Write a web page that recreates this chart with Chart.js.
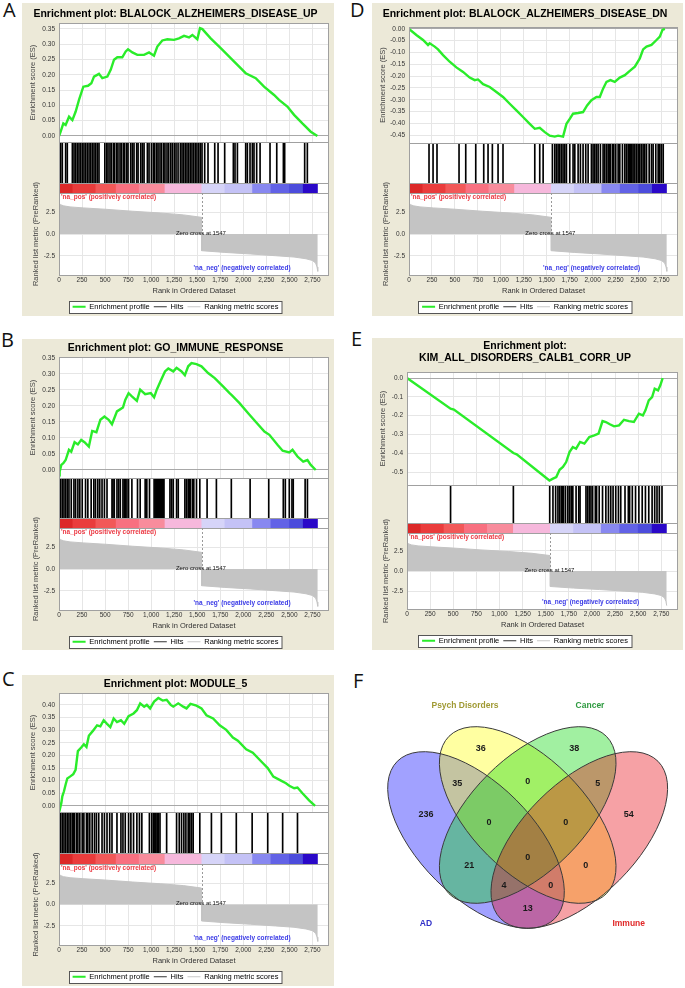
<!DOCTYPE html>
<html>
<head>
<meta charset="utf-8">
<title>GSEA enrichment plots and Venn diagram</title>
<script src="https://cdn.jsdelivr.net/npm/chart.js@4.4.1/dist/chart.umd.min.js"></script>
<style>
  html, body { margin: 0; padding: 0; background: #fff; }
  body { position: relative; width: 685px; height: 988px; overflow: hidden; }
  .panel { position: absolute; background: #ece9d8; }
  .venn { position: absolute; }
  .letter { position: absolute; font: 20px 'Open Sans', 'Noto Sans', sans-serif; line-height: 20px; color: #111; }
  canvas { display: block; }
</style>
</head>
<body>
<div class="letter" style="left:3px;top:0px">A</div>
<div class="letter" style="left:350px;top:0px">D</div>
<div class="letter" style="left:1px;top:330px">B</div>
<div class="letter" style="left:351px;top:329px">E</div>
<div class="letter" style="left:2px;top:669px">C</div>
<div class="letter" style="left:353px;top:671px">F</div>

<script>
// ---- shared axis values ----
const rankTicks = [0, 250, 500, 750, 1000, 1250, 1500, 1750, 2000, 2250, 2500, 2750];
const metricTicks = [-2.5, 0, 2.5];
const zeroCross = 1547;

// ranked list metric (same ranked list behind all five plots)
const metricRanks = [0, 15, 50, 120, 270, 500, 800, 1100, 1350, 1546, 1547, 1800, 2080, 2350, 2550, 2680, 2750, 2785, 2800, 2808];
const metricValues = [3.6, 3.38, 3.24, 3.12, 3.0, 2.85, 2.62, 2.42, 2.2, 1.92, -1.92, -2.12, -2.3, -2.5, -2.65, -2.85, -3.05, -3.35, -3.8, -4.3];

// heat bar blocks under the hits
const barStarts = [0, 150, 400, 620, 870, 1150, 1550, 1800, 2100, 2300, 2500, 2650];
const barEnds = [150, 400, 620, 870, 1150, 1550, 1800, 2100, 2300, 2500, 2650, 2805];
const barColors = ['#dc2828', '#ea3c3c', '#f25858', '#f87080', '#f88c9c', '#f6b8dc', '#d6d4f8', '#c4c2f6', '#8888f0', '#6262e6', '#4c4cdc', '#2a08c8'];

// ---- A: BLALOCK_ALZHEIMERS_DISEASE_UP ----
const titleA = ['Enrichment plot: BLALOCK_ALZHEIMERS_DISEASE_UP'];
const esTicksA = [0, 0.05, 0.1, 0.15, 0.2, 0.25, 0.3, 0.35];
const esRankA = [0, 18, 47, 72, 109, 145, 181, 217, 264, 315, 351, 380, 434, 470, 525, 561, 597, 633, 687, 724, 749, 796, 850, 923, 977, 1031, 1067, 1121, 1176, 1248, 1302, 1357, 1411, 1447, 1501, 1530, 1556, 1646, 1755, 1863, 1936, 2026, 2135, 2225, 2334, 2388, 2478, 2551, 2641, 2732, 2804];
const esValA = [0, 0.014, 0.041, 0.036, 0.063, 0.052, 0.080, 0.118, 0.161, 0.164, 0.172, 0.194, 0.203, 0.189, 0.194, 0.216, 0.249, 0.257, 0.257, 0.276, 0.283, 0.273, 0.265, 0.265, 0.273, 0.262, 0.292, 0.312, 0.316, 0.314, 0.319, 0.327, 0.322, 0.330, 0.316, 0.352, 0.349, 0.319, 0.287, 0.254, 0.232, 0.205, 0.189, 0.161, 0.134, 0.118, 0.096, 0.069, 0.041, 0.014, 0];
const hitsA = [18, 36, 72, 90, 145, 163, 181, 199, 217, 235, 253, 271, 289, 307, 326, 344, 362, 380, 398, 416, 434, 497, 517, 532, 553, 568, 590, 604, 626, 640, 662, 677, 698, 713, 735, 749, 778, 796, 814, 843, 858, 887, 905, 923, 959, 977, 1003, 1024, 1039, 1060, 1075, 1096, 1114, 1136, 1150, 1172, 1190, 1212, 1230, 1251, 1270, 1292, 1317, 1335, 1353, 1371, 1389, 1407, 1425, 1443, 1461, 1479, 1497, 1516, 1534, 1552, 1581, 1617, 1690, 1726, 1798, 1892, 1910, 1936, 2026, 2044, 2073, 2098, 2116, 2145, 2182, 2290, 2363, 2435, 2449, 2666, 2695];

// ---- B: GO_IMMUNE_RESPONSE ----
const titleB = ['Enrichment plot: GO_IMMUNE_RESPONSE'];
const esTicksB = [0, 0.05, 0.1, 0.15, 0.2, 0.25, 0.3, 0.35];
const esRankB = [0, 7, 25, 47, 72, 108, 133, 169, 205, 241, 277, 324, 360, 406, 449, 493, 539, 575, 629, 694, 719, 755, 791, 845, 881, 935, 996, 1032, 1061, 1104, 1150, 1186, 1240, 1276, 1330, 1366, 1402, 1438, 1492, 1546, 1618, 1690, 1780, 1851, 1877, 1959, 2060, 2139, 2229, 2283, 2373, 2427, 2499, 2534, 2588, 2650, 2696, 2732, 2786];
const esValB = [0, -0.005, 0.016, 0.021, 0.031, 0.063, 0.057, 0.087, 0.080, 0.094, 0.087, 0.073, 0.122, 0.118, 0.157, 0.167, 0.157, 0.143, 0.183, 0.195, 0.219, 0.240, 0.230, 0.216, 0.251, 0.237, 0.240, 0.227, 0.251, 0.279, 0.308, 0.317, 0.308, 0.319, 0.308, 0.296, 0.324, 0.334, 0.331, 0.324, 0.303, 0.287, 0.261, 0.240, 0.233, 0.209, 0.175, 0.149, 0.120, 0.110, 0.078, 0.060, 0.055, 0.063, 0.042, 0.026, 0.031, 0.016, 0];
const hitsB = [18, 36, 54, 72, 90, 108, 133, 162, 180, 205, 226, 252, 288, 313, 349, 378, 396, 421, 442, 467, 493, 521, 575, 586, 600, 629, 647, 665, 694, 708, 719, 737, 755, 791, 852, 881, 935, 953, 982, 1032, 1043, 1053, 1061, 1068, 1078, 1089, 1096, 1104, 1114, 1125, 1132, 1139, 1204, 1222, 1240, 1276, 1294, 1366, 1384, 1402, 1413, 1427, 1449, 1463, 1492, 1528, 1607, 1708, 1870, 2074, 2276, 2434, 2456, 2499, 2528, 2542, 2671, 2696];

// ---- C: MODULE_5 ----
const titleC = ['Enrichment plot: MODULE_5'];
const esTicksC = [0, 0.05, 0.1, 0.15, 0.2, 0.25, 0.3, 0.35, 0.4];
const esRankC = [0, 11, 25, 36, 54, 72, 90, 119, 155, 180, 205, 241, 270, 298, 324, 370, 413, 449, 485, 521, 557, 593, 629, 672, 708, 755, 809, 845, 881, 924, 953, 989, 1032, 1078, 1125, 1168, 1212, 1240, 1294, 1348, 1384, 1427, 1492, 1546, 1600, 1672, 1744, 1815, 1887, 1941, 2031, 2103, 2211, 2265, 2326, 2409, 2463, 2499, 2552, 2588, 2642, 2714, 2779];
const esValC = [0, -0.01, 0.011, 0.038, 0.058, 0.085, 0.109, 0.116, 0.126, 0.143, 0.217, 0.231, 0.244, 0.233, 0.278, 0.298, 0.319, 0.315, 0.339, 0.325, 0.312, 0.346, 0.332, 0.339, 0.325, 0.355, 0.366, 0.379, 0.406, 0.393, 0.400, 0.386, 0.413, 0.427, 0.417, 0.420, 0.400, 0.393, 0.406, 0.393, 0.386, 0.404, 0.397, 0.386, 0.359, 0.346, 0.319, 0.301, 0.271, 0.258, 0.224, 0.211, 0.170, 0.150, 0.116, 0.100, 0.090, 0.080, 0.070, 0.073, 0.050, 0.022, 0];
const hitsC = [18, 36, 54, 72, 90, 108, 126, 144, 155, 169, 191, 205, 226, 252, 270, 298, 313, 334, 360, 385, 406, 431, 467, 493, 521, 550, 575, 629, 672, 694, 719, 755, 780, 809, 845, 873, 899, 981, 1006, 1024, 1032, 1043, 1053, 1068, 1078, 1096, 1168, 1276, 1305, 1330, 1355, 1377, 1402, 1420, 1438, 1456, 1528, 1654, 1762, 1924, 2096, 2265, 2427, 2588];

// ---- D: BLALOCK_ALZHEIMERS_DISEASE_DN ----
const titleD = ['Enrichment plot: BLALOCK_ALZHEIMERS_DISEASE_DN'];
const esTicksD = [0, -0.05, -0.1, -0.15, -0.2, -0.25, -0.3, -0.35, -0.4, -0.45];
const esRankD = [0, 80, 153, 207, 225, 280, 316, 371, 443, 516, 589, 661, 716, 752, 807, 879, 952, 1024, 1097, 1170, 1242, 1315, 1370, 1424, 1479, 1533, 1588, 1624, 1678, 1715, 1751, 1787, 1842, 1896, 1940, 1987, 2042, 2078, 2114, 2151, 2194, 2241, 2296, 2351, 2405, 2460, 2514, 2550, 2587, 2641, 2696, 2732, 2761, 2787];
const esValD = [0, -0.026, -0.047, -0.068, -0.061, -0.075, -0.087, -0.111, -0.139, -0.163, -0.182, -0.206, -0.217, -0.214, -0.234, -0.246, -0.267, -0.288, -0.317, -0.345, -0.373, -0.402, -0.423, -0.419, -0.437, -0.452, -0.456, -0.452, -0.456, -0.402, -0.381, -0.359, -0.356, -0.352, -0.324, -0.302, -0.288, -0.288, -0.253, -0.224, -0.217, -0.224, -0.206, -0.196, -0.178, -0.160, -0.125, -0.087, -0.075, -0.068, -0.047, -0.033, -0.004, 0];
const hitsD = [218, 262, 305, 545, 618, 727, 814, 861, 908, 970, 1024, 1370, 1424, 1461, 1562, 1588, 1606, 1624, 1642, 1660, 1678, 1697, 1715, 1751, 1787, 1806, 1842, 1867, 1896, 1925, 1951, 1987, 2005, 2024, 2042, 2060, 2085, 2114, 2132, 2151, 2169, 2180, 2194, 2216, 2231, 2252, 2278, 2296, 2325, 2351, 2369, 2387, 2398, 2412, 2427, 2441, 2460, 2478, 2496, 2514, 2532, 2550, 2568, 2587, 2616, 2641, 2659, 2688, 2714, 2732, 2750, 2769];

// ---- E: KIM_ALL_DISORDERS_CALB1_CORR_UP ----
const titleE = ['Enrichment plot:', 'KIM_ALL_DISORDERS_CALB1_CORR_UP'];
const esTicksE = [0, -0.1, -0.2, -0.3, -0.4, -0.5];
const esRankE = [0, 471, 507, 1150, 1186, 1540, 1578, 1614, 1650, 1686, 1721, 1757, 1793, 1828, 1871, 1918, 1971, 2025, 2071, 2114, 2150, 2193, 2239, 2293, 2346, 2400, 2453, 2507, 2550, 2578, 2614, 2650, 2678, 2714, 2739, 2764];
const esValE = [0, -0.163, -0.168, -0.399, -0.406, -0.545, -0.535, -0.527, -0.488, -0.473, -0.447, -0.394, -0.367, -0.376, -0.340, -0.349, -0.314, -0.305, -0.296, -0.229, -0.234, -0.246, -0.257, -0.252, -0.222, -0.229, -0.234, -0.190, -0.199, -0.172, -0.119, -0.101, -0.057, -0.066, -0.039, 0];
const hitsE = [471, 1150, 1543, 1578, 1607, 1632, 1650, 1668, 1678, 1693, 1714, 1739, 1757, 1775, 1793, 1828, 1857, 1871, 1935, 1953, 1971, 1989, 2007, 2036, 2050, 2078, 2114, 2150, 2178, 2203, 2228, 2257, 2286, 2311, 2357, 2393, 2407, 2436, 2471, 2507, 2543, 2578, 2614, 2650, 2678, 2703, 2728, 2757];

// ---- F: Venn counts ----
const vennSets = ['AD', 'Psych Disorders', 'Cancer', 'Immune'];
const vennCounts = [36, 38, 35, 0, 5, 236, 0, 0, 54, 0, 21, 0, 4, 0, 13];

// legend entries
const legendItems = ['Enrichment profile', 'Hits', 'Ranking metric scores'];
const legendColors = ['#2aec2a', '#333333', '#c8c8c8'];

// ---- layout (pixels on the page) ----
const layoutA = {left: 22, top: 3, width: 312, height: 313, plotLeft: 59, plotRight: 329, titleY: 14, esTop: 23, esBottom: 142, hitsBottom: 183, barBottom: 193, metricBottom: 275, esMin: -0.0196, esMax: 0.369, digits: 2, esTitlePad: 6.5, metricTitlePad: 9};
const layoutB = {left: 22, top: 339, width: 312, height: 311, plotLeft: 59, plotRight: 329, titleY: 348.5, esTop: 357, esBottom: 478, hitsBottom: 518, barBottom: 528, metricBottom: 610, esMin: -0.025, esMax: 0.353, digits: 2, esTitlePad: 6.5, metricTitlePad: 9};
const layoutC = {left: 22, top: 675, width: 312, height: 311, plotLeft: 59, plotRight: 329, titleY: 684, esTop: 693, esBottom: 812, hitsBottom: 853, barBottom: 864, metricBottom: 945, esMin: -0.024, esMax: 0.447, digits: 2, esTitlePad: 6.5, metricTitlePad: 9};
const layoutD = {left: 372, top: 3, width: 311, height: 313, plotLeft: 409, plotRight: 678, titleY: 14, esTop: 27, esBottom: 143, hitsBottom: 183, barBottom: 193, metricBottom: 275, esMin: -0.483, esMax: 0.008, digits: 2, esTitlePad: 6.5, metricTitlePad: 9};
const layoutE = {left: 372, top: 338, width: 311, height: 312, plotLeft: 407, plotRight: 678, titleY: 346.5, esTop: 372, esBottom: 485, hitsBottom: 523, barBottom: 533, metricBottom: 609, esMin: -0.569, esMax: 0.032, digits: 1, esTitlePad: 6.5, metricTitlePad: 9};

const vennBox = {left: 340, top: 656, width: 345, height: 332};
const vennCx = [136, 187.7, 187.7, 239.3];
const vennCy = [184, 159, 159, 184];
const vennRot = [45, 45, -45, -45];
const vennSemiMajor = 111.3, vennSemiMinor = 56.7;
const vennFill = ['rgba(0,0,255,0.37)', 'rgba(255,255,0,0.37)', 'rgba(0,215,0,0.37)', 'rgba(230,0,10,0.37)'];
const vennNameColor = ['#3030c8', '#a09a34', '#2e9a40', '#e02828'];
const vennLabelX = [140.7, 234.3, 117.3, 187.7, 257.7, 86, 149, 225.7, 288.7, 187.7, 129.3, 245.7, 164, 210.7, 187.7];
const vennLabelY = [93, 93, 128, 125.7, 128, 159, 166.7, 166.7, 159, 201.7, 210, 210, 230, 230, 252.3];
const vennNameX = [86, 125, 250, 288.7];
const vennNameY = [268, 50, 50, 268];

const FONT = "'Liberation Sans', Arial, sans-serif";
const TITLE_SIZE = 10.5, TITLE_LH = 1.12;
const LEGEND_SIZE = 7.5, LEGEND_PAD = 4;
const X_AXIS_H = 24;

Chart.defaults.font.family = FONT;
Chart.defaults.color = '#333';

function legendBox(chart) {
  const hb = chart.legend.legendHitBoxes;
  const last = hb[hb.length - 1];
  const x = Math.round(hb[0].left - 4) + 0.5;
  const y = Math.round(hb[0].top - 2) + 0.5;
  return {x, y, w: Math.round(last.left + last.width + 4) - x, h: Math.round(hb[0].height + 4)};
}

const gseaDecor = {
  id: 'gseaDecor',
  beforeDraw(chart) {
    const {ctx, chartArea: a} = chart;
    ctx.save();
    ctx.fillStyle = '#fff';
    ctx.fillRect(a.left, a.top, a.width, a.height);
    const b = legendBox(chart);
    ctx.fillRect(b.x, b.y, b.w, b.h);
    ctx.restore();
  },
  beforeDatasetsDraw(chart) {
    // no grid inside the hits strip and the heat bar
    const {ctx, chartArea: a, scales: s} = chart;
    ctx.save();
    ctx.fillStyle = '#fff';
    ctx.fillRect(a.left, s.yHits.top, a.width, s.yBar.bottom - s.yHits.top);
    ctx.restore();
  },
  afterDatasetsDraw(chart) {
    const {ctx, chartArea: a, scales: s} = chart;
    ctx.save();
    ctx.strokeStyle = '#a0a0a0';
    ctx.lineWidth = 1;
    ['yES', 'yHits', 'yBar', 'yMetric'].forEach(id => {
      const sc = s[id];
      ctx.strokeRect(Math.round(a.left) + 0.5, Math.round(sc.top) + 0.5, Math.round(a.width) - 1, Math.round(sc.bottom - sc.top));
    });
    const zx = s.x.getPixelForValue(zeroCross);
    const zy = s.yMetric.getPixelForValue(0);
    ctx.setLineDash([2, 2]);
    ctx.strokeStyle = '#999';
    ctx.beginPath();
    ctx.moveTo(Math.round(zx) + 0.5, s.yMetric.top);
    ctx.lineTo(Math.round(zx) + 0.5, zy);
    ctx.stroke();
    ctx.setLineDash([]);
    ctx.textBaseline = 'middle';
    ctx.font = '6px ' + FONT;
    ctx.fillStyle = '#111';
    ctx.textAlign = 'center';
    ctx.fillText('Zero cross at ' + zeroCross, s.x.getPixelForValue(1540), zy - 1);
    ctx.font = 'bold 6.5px ' + FONT;
    ctx.textAlign = 'left';
    ctx.fillStyle = '#ec3a44';
    ctx.fillText("'na_pos' (positively correlated)", a.left + 2, s.yMetric.top + 4);
    ctx.fillStyle = '#3a3ae6';
    ctx.fillText("'na_neg' (negatively correlated)", s.x.getPixelForValue(1460), s.yMetric.bottom - 7);
    ctx.restore();
  },
  afterDraw(chart) {
    const {ctx} = chart;
    const b = legendBox(chart);
    ctx.save();
    ctx.strokeStyle = '#555';
    ctx.lineWidth = 1;
    ctx.strokeRect(b.x, b.y, b.w, b.h);
    ctx.restore();
  }
};

function gseaChart(p, title, esRank, esVal, hits, esTicks) {
  const box = document.createElement('div');
  box.className = 'panel';
  box.style.left = p.left + 'px';
  box.style.top = p.top + 'px';
  box.style.width = p.width + 'px';
  box.style.height = p.height + 'px';
  const canvas = document.createElement('canvas');
  canvas.width = p.width;
  canvas.height = p.height;
  box.appendChild(canvas);
  document.body.appendChild(box);

  const lh = TITLE_SIZE * TITLE_LH;
  const tTop = p.titleY - p.top - lh / 2;
  const tBottom = p.esTop - p.top - tTop - title.length * lh;
  const legendH = LEGEND_SIZE + 2 * LEGEND_PAD;
  const axisW = p.plotLeft - p.left;
  const fitW = ax => { ax.width = axisW; };
  const tickFont = {size: 6.5};
  const yAxis = extra => Object.assign({
    position: 'left', stack: 'gsea', afterFit: fitW, border: {display: false}
  }, extra);

  return new Chart(canvas, {
    type: 'line',
    data: {
      datasets: [{
        type: 'line',
        label: legendItems[0],
        data: esRank.map((r, i) => ({x: r, y: esVal[i]})),
        yAxisID: 'yES',
        borderColor: legendColors[0],
        borderWidth: 2.4,
        pointRadius: 0,
        fill: false,
        tension: 0
      }, {
        type: 'bar',
        label: legendItems[1],
        data: hits.map(r => ({x: r, y: 1})),
        yAxisID: 'yHits',
        backgroundColor: '#000',
        barThickness: 1,
        grouped: false
      }, {
        type: 'bar',
        label: 'heat',
        indexAxis: 'y',
        data: barStarts.map((s, i) => ({x: [s, barEnds[i]], y: 'bar'})),
        xAxisID: 'x',
        yAxisID: 'yBar',
        backgroundColor: barColors,
        barPercentage: 1,
        categoryPercentage: 1,
        grouped: false
      }, {
        type: 'line',
        label: legendItems[2],
        data: metricRanks.map((r, i) => ({x: r, y: metricValues[i]})),
        yAxisID: 'yMetric',
        borderColor: '#c4c4c4',
        backgroundColor: '#c4c4c4',
        borderWidth: 1,
        pointRadius: 0,
        fill: 'origin',
        tension: 0
      }]
    },
    options: {
      responsive: false,
      animation: false,
      devicePixelRatio: 1,
      events: [],
      layout: {
        padding: {left: 0, top: 0, right: p.left + p.width - p.plotRight,
                  bottom: Math.max(0, p.top + p.height - p.metricBottom - X_AXIS_H - legendH)}
      },
      scales: {
        x: {
          type: 'linear', min: 0, max: 2930, bounds: 'data', offset: false,
          afterBuildTicks: s => { s.ticks = rankTicks.map(v => ({value: v})); },
          afterFit: ax => { ax.height = X_AXIS_H; },
          ticks: {font: tickFont, color: '#333', padding: 1, maxRotation: 0, autoSkip: false,
                  callback: v => v.toLocaleString('en-US')},
          grid: {color: '#e6e6e6', drawTicks: false, offset: false},
          border: {display: false},
          title: {display: true, text: 'Rank in Ordered Dataset', font: {size: 7.5}, color: '#333',
                  padding: {top: 0, bottom: 3.5}}
        },
        yES: yAxis({
          type: 'linear', weight: 4, stackWeight: p.esBottom - p.esTop,
          min: p.esMin, max: p.esMax, bounds: 'data',
          afterBuildTicks: s => { s.ticks = esTicks.map(v => ({value: v})); },
          ticks: {font: tickFont, color: '#333', padding: 4, autoSkip: false, callback: v => v.toFixed(p.digits)},
          grid: {drawTicks: false, color: c => (c.tick && c.tick.value === 0) ? '#a8a8a8' : '#e6e6e6'},
          title: {display: true, text: 'Enrichment score (ES)', font: {size: 7.5}, color: '#444',
                  padding: {top: p.esTitlePad, bottom: 0}}
        }),
        yHits: yAxis({
          type: 'linear', weight: 3, stackWeight: p.hitsBottom - p.esBottom,
          min: 0, max: 1, ticks: {display: false}, grid: {display: false}
        }),
        yBar: yAxis({
          type: 'category', labels: ['bar'], offset: true, weight: 2, stackWeight: p.barBottom - p.hitsBottom,
          ticks: {display: false}, grid: {display: false}
        }),
        yMetric: yAxis({
          type: 'linear', weight: 1, stackWeight: p.metricBottom - p.barBottom,
          min: -4.72, max: 4.72, bounds: 'data',
          afterBuildTicks: s => { s.ticks = metricTicks.map(v => ({value: v})); },
          ticks: {font: tickFont, color: '#333', padding: 4, autoSkip: false, callback: v => v.toFixed(1)},
          grid: {drawTicks: false, color: '#e6e6e6'},
          title: {display: true, text: 'Ranked list metric (PreRanked)', font: {size: 7.5}, color: '#444',
                  padding: {top: p.metricTitlePad, bottom: 0}}
        })
      },
      plugins: {
        title: {
          display: true, text: title, color: '#000',
          font: {size: TITLE_SIZE, weight: 'bold', lineHeight: TITLE_LH},
          padding: {top: tTop, bottom: tBottom}
        },
        legend: {
          position: 'bottom',
          maxHeight: legendH,
          onClick: null,
          labels: {
            usePointStyle: true, pointStyleWidth: 13, padding: LEGEND_PAD, color: '#222',
            font: {size: LEGEND_SIZE},
            generateLabels: () => legendItems.map((t, i) => ({
              text: t, fillStyle: legendColors[i], strokeStyle: legendColors[i],
              lineWidth: i === 0 ? 2 : 1, pointStyle: 'line', hidden: false, datasetIndex: i
            }))
          }
        },
        tooltip: {enabled: false}
      }
    },
    plugins: [gseaDecor]
  });
}

gseaChart(layoutA, titleA, esRankA, esValA, hitsA, esTicksA);
gseaChart(layoutB, titleB, esRankB, esValB, hitsB, esTicksB);
gseaChart(layoutC, titleC, esRankC, esValC, hitsC, esTicksC);
gseaChart(layoutD, titleD, esRankD, esValD, hitsD, esTicksD);
gseaChart(layoutE, titleE, esRankE, esValE, hitsE, esTicksE);

// ---- Venn diagram ----
const vennDraw = {
  id: 'vennDraw',
  beforeDatasetsDraw(chart) {
    const {ctx, scales: {x, y}} = chart;
    const shapes = vennSets.map((name, i) => {
      const cx = x.getPixelForValue(vennCx[i]);
      const cy = y.getPixelForValue(vennCy[i]);
      const rx = Math.abs(x.getPixelForValue(vennCx[i] + vennSemiMajor) - cx);
      const ry = Math.abs(x.getPixelForValue(vennCx[i] + vennSemiMinor) - cx);
      return {cx, cy, rx, ry, rot: vennRot[i] * Math.PI / 180};
    });
    ctx.save();
    shapes.forEach((e, i) => {
      ctx.beginPath();
      ctx.ellipse(e.cx, e.cy, e.rx, e.ry, e.rot, 0, Math.PI * 2);
      ctx.fillStyle = vennFill[i];
      ctx.fill();
    });
    ctx.strokeStyle = '#3a3a3a';
    ctx.lineWidth = 1;
    shapes.forEach(e => {
      ctx.beginPath();
      ctx.ellipse(e.cx, e.cy, e.rx, e.ry, e.rot, 0, Math.PI * 2);
      ctx.stroke();
    });
    ctx.restore();
  },
  afterDatasetsDraw(chart) {
    const {ctx, scales: {x, y}} = chart;
    const meta = chart.getDatasetMeta(0);
    ctx.save();
    ctx.textAlign = 'center';
    ctx.textBaseline = 'middle';
    ctx.font = 'bold 9px ' + FONT;
    ctx.fillStyle = '#1a1a1a';
    meta.data.forEach((pt, i) => ctx.fillText(String(vennCounts[i]), pt.x, pt.y));
    ctx.font = 'bold 8.5px ' + FONT;
    vennSets.forEach((name, i) => {
      ctx.fillStyle = vennNameColor[i];
      ctx.fillText(name, x.getPixelForValue(vennNameX[i]), y.getPixelForValue(vennNameY[i]));
    });
    ctx.restore();
  }
};

(function () {
  const wrap = document.createElement('div');
  wrap.className = 'venn';
  wrap.style.left = vennBox.left + 'px';
  wrap.style.top = vennBox.top + 'px';
  const canvas = document.createElement('canvas');
  canvas.width = vennBox.width;
  canvas.height = vennBox.height;
  wrap.appendChild(canvas);
  document.body.appendChild(wrap);
  new Chart(canvas, {
    type: 'scatter',
    data: {datasets: [{data: vennLabelX.map((vx, i) => ({x: vx, y: vennLabelY[i]})), pointRadius: 0}]},
    options: {
      responsive: false, animation: false, devicePixelRatio: 1, events: [],
      layout: {padding: 0},
      scales: {
        x: {type: 'linear', display: false, min: 0, max: vennBox.width},
        y: {type: 'linear', display: false, min: 0, max: vennBox.height, reverse: true}
      },
      plugins: {legend: {display: false}, tooltip: {enabled: false}}
    },
    plugins: [vennDraw]
  });
})();
</script>
</body>
</html>
